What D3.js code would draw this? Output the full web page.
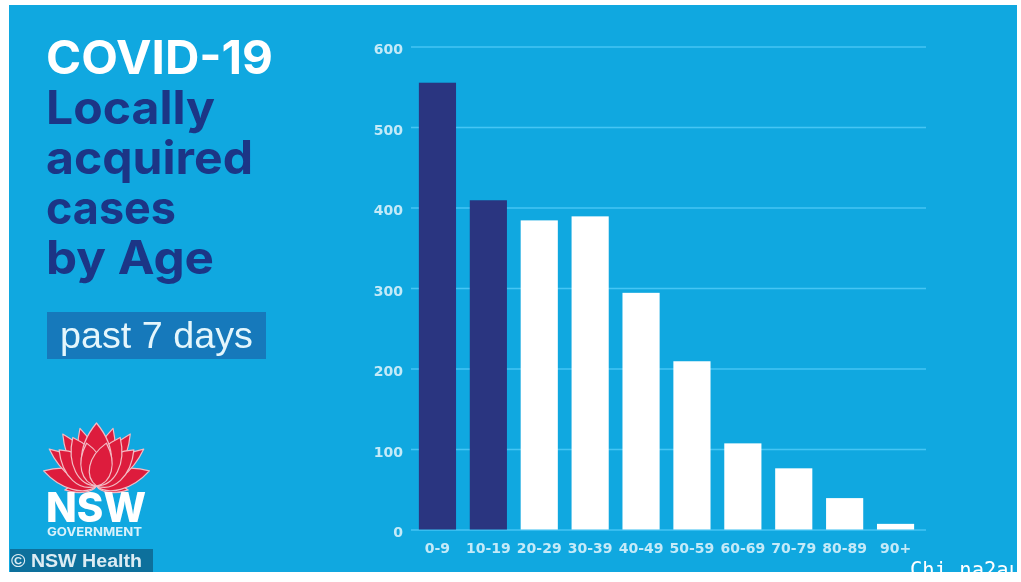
<!DOCTYPE html>
<html>
<head>
<meta charset="utf-8">
<title>COVID-19 Locally acquired cases by Age</title>
<script src="https://d3js.org/d3.v7.min.js"></script>
<style>
html, body { margin: 0; padding: 0; background: #fff; overflow: hidden; }
svg { display: block; }
.axis path { display: none; }
.axis text { font-family: "DejaVu Sans", sans-serif; font-weight: bold; font-size: 14px; fill: #c4eaf8; }
.title { font-family: "Inter", "Open Sans", sans-serif; font-weight: 700; }
</style>
</head>
<body>
<div id="plot"></div>
<script>
var ageGroups = ["0-9", "10-19", "20-29", "30-39", "40-49", "50-59", "60-69", "70-79", "80-89", "90+"];
var cases = [555, 409, 384, 389, 294, 209, 107, 76, 39, 7];
var highlighted = ["0-9", "10-19"];
var yTicks = [0, 100, 200, 300, 400, 500, 600];
var titleLines = ["Locally", "acquired", "cases", "by Age"];
var titleWidths = [169, 207, 130, 168];

var width = 1021, height = 582;
var svg = d3.select("#plot").append("svg").attr("width", width).attr("height", height);

// blur, the source is a video still
var soft = svg.append("defs").append("filter").attr("id", "soft")
  .attr("filterUnits", "userSpaceOnUse").attr("x", 0).attr("y", 0).attr("width", width).attr("height", height);
soft.append("feGaussianBlur").attr("stdDeviation", 0.7);

var clip = svg.select("defs").append("clipPath").attr("id", "panel");
clip.append("rect").attr("x", 9).attr("y", 5).attr("width", 1008).attr("height", 567);

svg.append("rect").attr("x", 9).attr("y", 5).attr("width", 1008).attr("height", 567).attr("fill", "#10a8e0");

var g = svg.append("g").attr("filter", "url(#soft)");

var xScale = d3.scaleBand().domain(ageGroups).range([412, 921]).paddingInner(0.27).paddingOuter(0.135);
var yScale = d3.scaleLinear().domain([0, 600]).range([529.5, 46.5]);

// gridlines and y labels
var yAxis = d3.axisLeft(yScale).tickValues(yTicks).tickSize(-515).tickPadding(8).tickFormat(d3.format("d"));
var yG = g.append("g").attr("class", "axis").attr("transform", "translate(411,0)").call(yAxis);
yG.selectAll("line").attr("stroke", "#45c5f4").attr("stroke-width", 1.4);
yG.selectAll("text").attr("dy", "0.5em");

var xAxis = d3.axisBottom(xScale).tickSize(0).tickPadding(14);
var xG = g.append("g").attr("class", "axis").attr("transform", "translate(0,529.5)").call(xAxis);

g.selectAll("rect.bar").data(ageGroups).enter().append("rect")
  .attr("class", "bar")
  .attr("x", function (d) { return xScale(d); })
  .attr("width", xScale.bandwidth())
  .attr("y", function (d, i) { return yScale(cases[i]); })
  .attr("height", function (d, i) { return yScale(0) - yScale(cases[i]); })
  .attr("fill", function (d) { return highlighted.indexOf(d) >= 0 ? "#2a3480" : "#ffffff"; });

// headline
g.append("text").attr("class", "title").attr("x", 46).attr("y", 74)
  .attr("font-size", 46).attr("fill", "#fff")
  .attr("textLength", 227).attr("lengthAdjust", "spacingAndGlyphs").text("COVID-19");

g.selectAll("text.line").data(titleLines).enter().append("text")
  .attr("class", "title line")
  .attr("x", 46)
  .attr("y", function (d, i) { return 124 + i * 50; })
  .attr("font-size", 46).attr("fill", "#1a3686")
  .attr("textLength", function (d, i) { return titleWidths[i]; })
  .attr("lengthAdjust", "spacingAndGlyphs")
  .text(function (d) { return d; });

// past 7 days tag
g.append("rect").attr("x", 47).attr("y", 312).attr("width", 219).attr("height", 47).attr("fill", "#1479bb");
g.append("text").attr("x", 60).attr("y", 348).attr("font-family", "Liberation Sans, sans-serif")
  .attr("font-size", 36).attr("fill", "#e4f6fc")
  .attr("textLength", 193).attr("lengthAdjust", "spacingAndGlyphs").text("past 7 days");

// waratah logo, each petal is [angle, length, width], back ones first
var logo = g.append("g").attr("transform", "translate(96.5,486)");
var backPetals = [[-97, 32, 12], [97, 32, 12], [-74, 55, 25], [74, 55, 25], [-52, 60, 22], [52, 60, 22], [-33, 62, 24], [33, 62, 24], [-16, 60, 24], [16, 60, 24]];
var frontPetals = [[-46, 52, 32], [46, 52, 32], [-26, 54, 32], [26, 54, 32], [0, 63, 38], [-13, 44, 28], [13, 44, 28]];

function petal(p) {
  var l = p[1], w = p[2] / 2;
  return "M0,0C" + (-w) + "," + (-l * 0.15) + " " + (-w * 1.1) + "," + (-l * 0.6) + " 0," + (-l) +
    "C" + (w * 1.1) + "," + (-l * 0.6) + " " + w + "," + (-l * 0.15) + " 0,0Z";
}

logo.selectAll("path").data(backPetals.concat(frontPetals)).enter().append("path")
  .attr("d", petal)
  .attr("transform", function (p) { return "rotate(" + p[0] + ")"; })
  .attr("fill", "#dd1f3d")
  .attr("stroke", "#f3bcc6")
  .attr("stroke-width", 1.2)
  .attr("stroke-linejoin", "round");

g.append("text").attr("x", 46).attr("y", 522).attr("font-family", "Inter, sans-serif")
  .attr("font-weight", 800).attr("font-size", 41).attr("fill", "#fff")
  .attr("textLength", 100).attr("lengthAdjust", "spacingAndGlyphs").text("NSW");
g.append("text").attr("x", 47).attr("y", 536).attr("font-family", "Inter, sans-serif")
  .attr("font-weight", 700).attr("font-size", 12).attr("fill", "#d9f1fa")
  .attr("textLength", 95).attr("lengthAdjust", "spacingAndGlyphs").text("GOVERNMENT");

// credit bar
g.append("rect").attr("x", 10).attr("y", 549).attr("width", 143).attr("height", 23).attr("fill", "#0f6f9c");
g.append("text").attr("x", 11).attr("y", 567).attr("font-family", "Liberation Sans, sans-serif")
  .attr("font-weight", "bold").attr("font-size", 18).attr("fill", "#dcecf3")
  .attr("textLength", 131).attr("lengthAdjust", "spacingAndGlyphs").text("\u00a9 NSW Health");

// watermark, only shows where it sits on the panel
svg.append("text").attr("x", 910).attr("y", 577).attr("clip-path", "url(#panel)")
  .attr("font-family", "DejaVu Sans Mono, monospace").attr("font-size", 21).attr("fill", "#fff")
  .attr("textLength", 111).attr("lengthAdjust", "spacingAndGlyphs").text("Chi na2au");
</script>
</body>
</html>
